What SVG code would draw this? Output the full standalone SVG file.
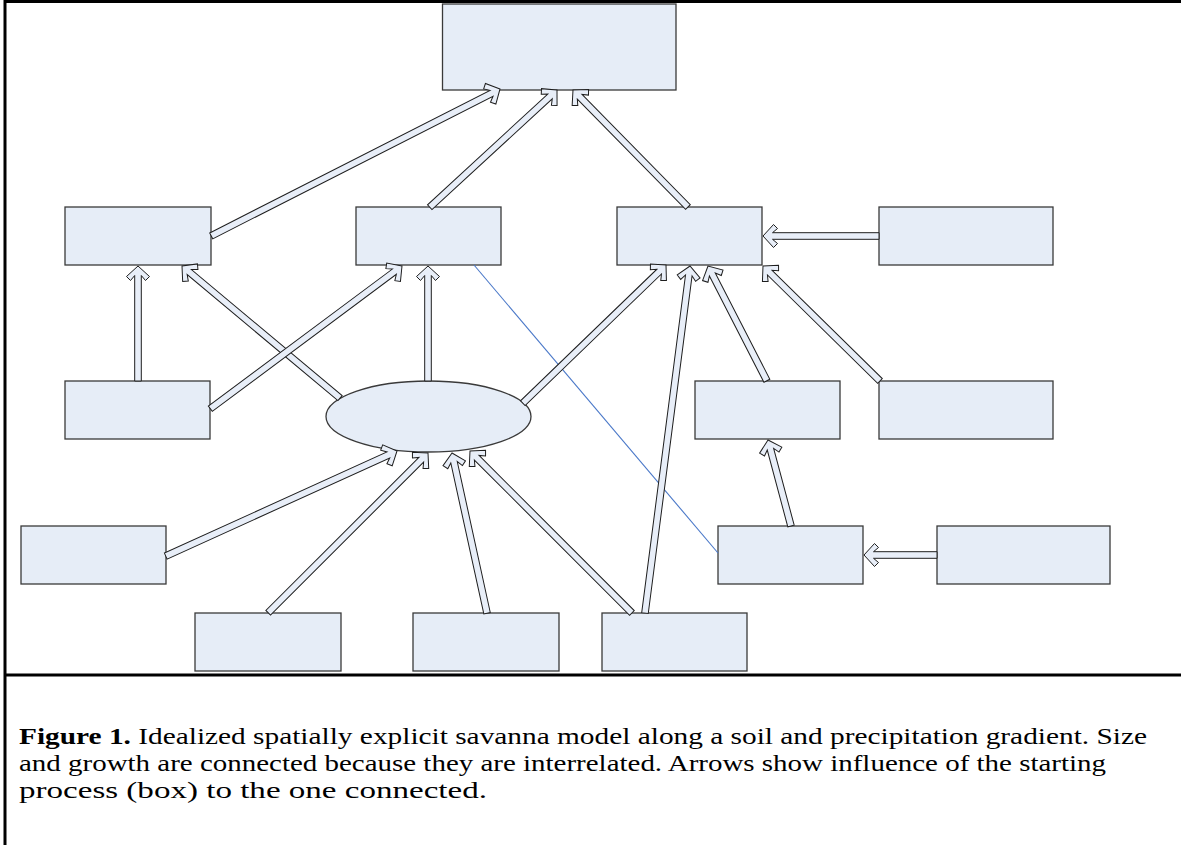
<svg xmlns="http://www.w3.org/2000/svg" width="1181" height="845" viewBox="0 0 1181 845">
<style>
.box{fill:#e6edf7;stroke:#3a3a3a;stroke-width:1.3}
.arr{fill:#e8eef8;stroke:#1e1e1e;stroke-width:1;stroke-linejoin:miter}
.frame{stroke:#000;fill:none}
.cap{font-size:24px;fill:#000}
</style>
<rect width="1181" height="845" fill="#fff"/>
<g id="frame">
<line class="frame" x1="5" y1="0" x2="5" y2="845" stroke-width="3"/>
<line class="frame" x1="5" y1="1.5" x2="1181" y2="1.5" stroke-width="3"/>
<line class="frame" x1="5" y1="675" x2="1181" y2="675" stroke-width="3"/>
</g>
<g id="node-top"><rect class="box" x="442.5" y="4" width="233.5" height="86"/></g>
<g id="node-a"><rect class="box" x="65" y="207" width="146" height="58"/></g>
<g id="node-b"><rect class="box" x="356" y="207" width="145" height="58"/></g>
<g id="node-c"><rect class="box" x="617" y="207" width="145" height="58"/></g>
<g id="node-d"><rect class="box" x="879" y="207" width="174" height="58"/></g>
<g id="node-e"><rect class="box" x="65" y="381" width="145" height="58"/></g>
<g id="node-ellipse"><ellipse class="box" cx="428.5" cy="416.5" rx="102.5" ry="35.5"/></g>
<g id="node-f"><rect class="box" x="695" y="381" width="145" height="58"/></g>
<g id="node-g"><rect class="box" x="879" y="381" width="174" height="58"/></g>
<g id="node-h"><rect class="box" x="21" y="526" width="145" height="58"/></g>
<g id="node-i"><rect class="box" x="718" y="526" width="145" height="58"/></g>
<g id="node-j"><rect class="box" x="937" y="526" width="173" height="58"/></g>
<g id="node-k"><rect class="box" x="195" y="613" width="146" height="58"/></g>
<g id="node-l"><rect class="box" x="413" y="613" width="146" height="58"/></g>
<g id="node-m"><rect class="box" x="602" y="613" width="145" height="58"/></g>
<g id="connectors">
<line x1="474" y1="265" x2="718" y2="553" stroke="#4a78c8" stroke-width="1.1"/>
<path class="arr" transform="translate(500,89) rotate(-26.96)" d="M0 0L-10.5 -11.5L-14.5 -7.5L-9.5 -3.3L-324 -3.3L-324 3.3L-9.5 3.3L-14.5 7.5L-10.5 11.5Z"/>
<path class="arr" transform="translate(557,90) rotate(-42.65)" d="M0 0L-10.5 -11.5L-14.5 -7.5L-9.5 -3.3L-173 -3.3L-173 3.3L-9.5 3.3L-14.5 7.5L-10.5 11.5Z"/>
<path class="arr" transform="translate(573,90) rotate(-134.5)" d="M0 0L-10.5 -11.5L-14.5 -7.5L-9.5 -3.3L-164 -3.3L-164 3.3L-9.5 3.3L-14.5 7.5L-10.5 11.5Z"/>
<path class="arr" transform="translate(138,266) rotate(-90)" d="M0 0L-10.5 -11.5L-14.5 -7.5L-9.5 -3.3L-115 -3.3L-115 3.3L-9.5 3.3L-14.5 7.5L-10.5 11.5Z"/>
<path class="arr" transform="translate(182,266) rotate(-140.1)" d="M0 0L-10.5 -11.5L-14.5 -7.5L-9.5 -3.3L-206 -3.3L-206 3.3L-9.5 3.3L-14.5 7.5L-10.5 11.5Z"/>
<path class="arr" transform="translate(402,266) rotate(-36.68)" d="M0 0L-10.5 -11.5L-14.5 -7.5L-9.5 -3.3L-239 -3.3L-239 3.3L-9.5 3.3L-14.5 7.5L-10.5 11.5Z"/>
<path class="arr" transform="translate(428,266) rotate(-90)" d="M0 0L-10.5 -11.5L-14.5 -7.5L-9.5 -3.3L-115 -3.3L-115 3.3L-9.5 3.3L-14.5 7.5L-10.5 11.5Z"/>
<path class="arr" transform="translate(666,265) rotate(-43.98)" d="M0 0L-10.5 -11.5L-14.5 -7.5L-9.5 -3.3L-199 -3.3L-199 3.3L-9.5 3.3L-14.5 7.5L-10.5 11.5Z"/>
<path class="arr" transform="translate(690,266) rotate(-82.61)" d="M0 0L-10.5 -11.5L-14.5 -7.5L-9.5 -3.3L-350 -3.3L-350 3.3L-9.5 3.3L-14.5 7.5L-10.5 11.5Z"/>
<path class="arr" transform="translate(708,266) rotate(-117.16)" d="M0 0L-10.5 -11.5L-14.5 -7.5L-9.5 -3.3L-129 -3.3L-129 3.3L-9.5 3.3L-14.5 7.5L-10.5 11.5Z"/>
<path class="arr" transform="translate(763,266) rotate(-135.5)" d="M0 0L-10.5 -11.5L-14.5 -7.5L-9.5 -3.3L-164 -3.3L-164 3.3L-9.5 3.3L-14.5 7.5L-10.5 11.5Z"/>
<path class="arr" transform="translate(763,236) rotate(180)" d="M0 0L-10.5 -11.5L-14.5 -7.5L-9.5 -3.3L-116 -3.3L-116 3.3L-9.5 3.3L-14.5 7.5L-10.5 11.5Z"/>
<path class="arr" transform="translate(768,440) rotate(-104.97)" d="M0 0L-10.5 -11.5L-14.5 -7.5L-9.5 -3.3L-89 -3.3L-89 3.3L-9.5 3.3L-14.5 7.5L-10.5 11.5Z"/>
<path class="arr" transform="translate(864,555) rotate(180)" d="M0 0L-10.5 -11.5L-14.5 -7.5L-9.5 -3.3L-73 -3.3L-73 3.3L-9.5 3.3L-14.5 7.5L-10.5 11.5Z"/>
<path class="arr" transform="translate(397,451) rotate(-24.44)" d="M0 0L-10.5 -11.5L-14.5 -7.5L-9.5 -3.3L-254 -3.3L-254 3.3L-9.5 3.3L-14.5 7.5L-10.5 11.5Z"/>
<path class="arr" transform="translate(428,453) rotate(-45)" d="M0 0L-10.5 -11.5L-14.5 -7.5L-9.5 -3.3L-226 -3.3L-226 3.3L-9.5 3.3L-14.5 7.5L-10.5 11.5Z"/>
<path class="arr" transform="translate(452,453) rotate(-102.34)" d="M0 0L-10.5 -11.5L-14.5 -7.5L-9.5 -3.3L-164 -3.3L-164 3.3L-9.5 3.3L-14.5 7.5L-10.5 11.5Z"/>
<path class="arr" transform="translate(470,451) rotate(-135)" d="M0 0L-10.5 -11.5L-14.5 -7.5L-9.5 -3.3L-229 -3.3L-229 3.3L-9.5 3.3L-14.5 7.5L-10.5 11.5Z"/>
</g>
<g id="caption" font-family="'Liberation Serif', 'Times New Roman', Times, serif">
<text class="cap" x="19" y="744" textLength="1128" lengthAdjust="spacingAndGlyphs"><tspan font-weight="bold">Figure 1.</tspan> Idealized spatially explicit savanna model along a soil and precipitation gradient. Size</text>
<text class="cap" x="19" y="771" textLength="1087" lengthAdjust="spacingAndGlyphs">and growth are connected because they are interrelated. Arrows show influence of the starting</text>
<text class="cap" x="19" y="798" textLength="468" lengthAdjust="spacingAndGlyphs">process (box) to the one connected.</text>
</g>
</svg>
